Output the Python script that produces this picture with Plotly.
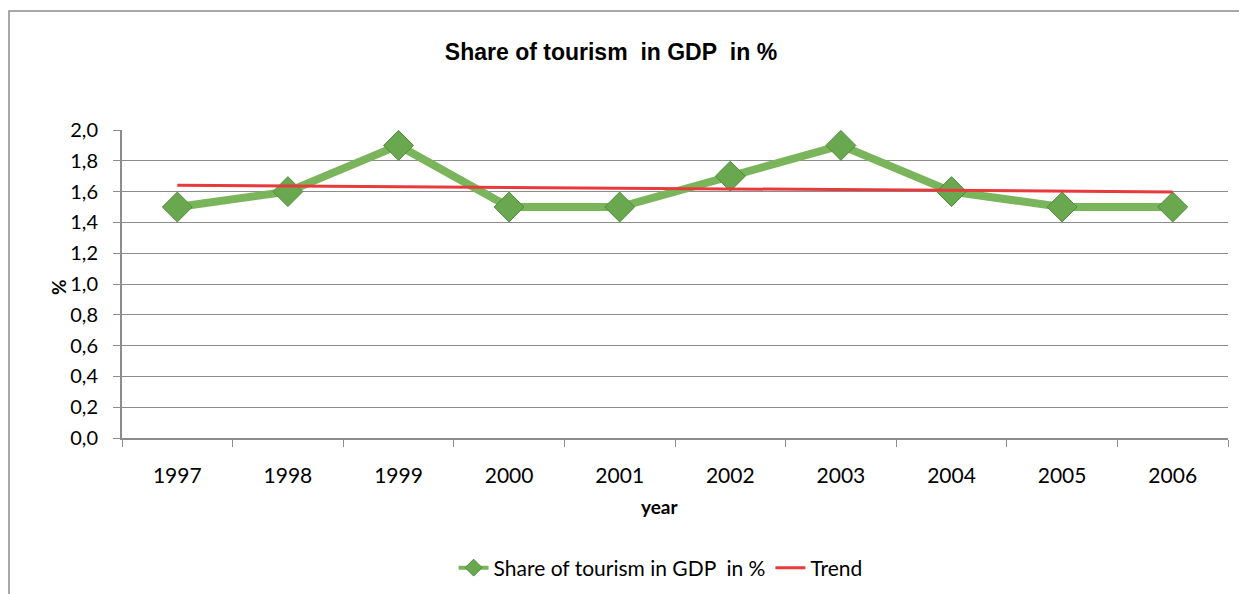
import plotly.graph_objects as go

years = ["1997", "1998", "1999", "2000", "2001", "2002", "2003", "2004", "2005", "2006"]
share = [1.5, 1.6, 1.9, 1.5, 1.5, 1.7, 1.9, 1.6, 1.5, 1.5]
trend_years = ["1997", "2006"]
trend_values = [1.642, 1.598]
y_ticks = [0.0, 0.2, 0.4, 0.6, 0.8, 1.0, 1.2, 1.4, 1.6, 1.8, 2.0]

FONT = "Lato, 'Open Sans', sans-serif"
TITLE_FONT = "'Liberation Sans', Arial, sans-serif"
GRID = "#8c8c8c"
GREEN_LINE = "#7ab55c"
GREEN_MARK = "#6aa84f"
GREEN_EDGE = "#4e8a3a"
SERIES_NAME = "Share of tourism in GDP&nbsp; in %"

fig = go.Figure()
fig.add_trace(go.Scatter(
    x=years, y=share, name=SERIES_NAME, showlegend=False,
    mode="lines+markers",
    line=dict(color=GREEN_LINE, width=8),
    marker=dict(symbol="diamond", size=23, color=GREEN_MARK,
                line=dict(color=GREEN_EDGE, width=1)),
))
# legend entry with a smaller diamond on a thinner line
fig.add_trace(go.Scatter(
    x=[None], y=[None], name=SERIES_NAME, mode="lines+markers",
    line=dict(color=GREEN_LINE, width=4),
    marker=dict(symbol="diamond", size=13, color=GREEN_MARK,
                line=dict(color=GREEN_EDGE, width=1)),
))
fig.add_trace(go.Scatter(
    x=trend_years, y=trend_values, name="Trend",
    mode="lines",
    line=dict(color="#e8393c", width=3),
))

fig.update_layout(
    width=1239, height=594,
    margin=dict(l=122, r=11, t=130, b=156, autoexpand=False),
    paper_bgcolor="white", plot_bgcolor="white",
    separators=",.",
    font=dict(family=FONT, size=21, color="black"),
    title=dict(text="<b>Share of tourism&nbsp; in GDP&nbsp; in %</b>",
               xref="container", yref="container",
               x=611 / 1239, y=1 - 52 / 594,
               xanchor="center", yanchor="middle",
               font=dict(family=TITLE_FONT, size=23, color="black")),
    showlegend=True,
    legend=dict(orientation="h", xref="paper", yref="paper",
                x=0.487, y=(438 - 568) / 308, xanchor="center", yanchor="middle",
                font=dict(family=FONT, size=21, color="black"),
                traceorder="normal"),
    xaxis=dict(type="category", categoryorder="array", categoryarray=years,
               showgrid=False, showline=True, linecolor=GRID, linewidth=2,
               ticks="outside", tickson="boundaries", ticklen=7,
               tickcolor=GRID, tickwidth=1, ticklabelstandoff=18,
               range=[-0.5, 9.5], fixedrange=True),
    yaxis=dict(range=[0, 2.0], tickvals=y_ticks, tickformat=".1f",
               showgrid=True, gridcolor=GRID, gridwidth=1,
               showline=True, linecolor=GRID, linewidth=2,
               ticks="outside", ticklen=7, tickcolor=GRID,
               tickfont=dict(size=20),
               ticklabelstandoff=11, zeroline=False, fixedrange=True),
    annotations=[
        dict(text="<b>%</b>", xref="paper", yref="paper",
             x=(58 - 122) / 1106, y=(438 - 287) / 308, textangle=-90,
             showarrow=False, xanchor="center", yanchor="middle",
             font=dict(family=FONT, size=19, color="black")),
        dict(text="<b>year</b>", xref="paper", yref="paper",
             x=(660 - 122) / 1106, y=(438 - 506) / 308,
             showarrow=False, xanchor="center", yanchor="middle",
             font=dict(family=FONT, size=19, color="black")),
    ],
    shapes=[
        dict(type="rect", xref="paper", yref="paper",
             x0=(9 - 122) / 1106, x1=1.2, y0=-0.8, y1=(438 - 11) / 308,
             line=dict(color="#8c8c8c", width=1.5), layer="below"),
    ],
)

fig.write_html("out.html")
